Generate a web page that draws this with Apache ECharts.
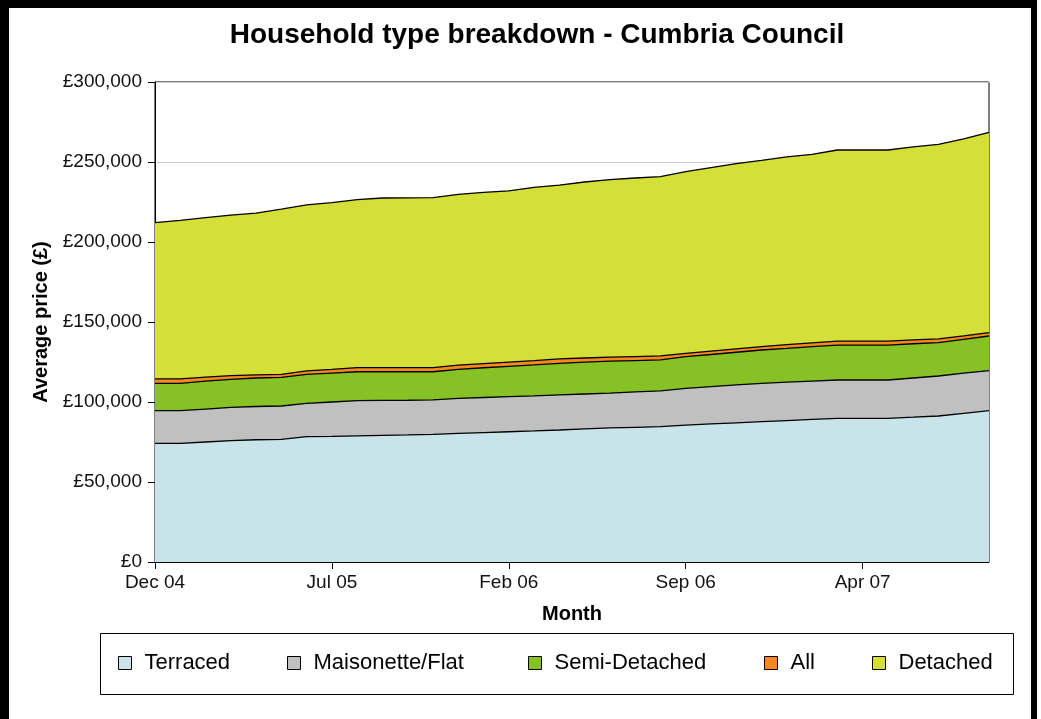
<!DOCTYPE html>
<html>
<head>
<meta charset="utf-8">
<title>Household type breakdown - Cumbria Council</title>
<script src="https://cdn.jsdelivr.net/npm/echarts@6/dist/echarts.min.js"></script>
<style>
  html, body { margin: 0; padding: 0; background: #fff; }
  #frame {
    position: absolute; left: 0; top: 0; width: 1041px; height: 719px;
    box-sizing: border-box; overflow: hidden;
  }
  #chart { position: absolute; left: 0; top: 0; width: 1041px; height: 719px; }
  .bar { position: absolute; background: #000; }
</style>
</head>
<body>
<div id="frame">
  <div id="chart"></div>
  <div class="bar" style="left:0;top:0;width:9px;height:719px"></div>
  <div class="bar" style="left:0;top:0;width:1037px;height:8px"></div>
  <div class="bar" style="left:1031px;top:0;width:6px;height:719px"></div>
</div>
<script>
// Monthly average prices, Dec 2004 - Sep 2007
const months = ['Dec 04','Jan 05','Feb 05','Mar 05','Apr 05','May 05','Jun 05','Jul 05','Aug 05','Sep 05','Oct 05','Nov 05',
  'Dec 05','Jan 06','Feb 06','Mar 06','Apr 06','May 06','Jun 06','Jul 06','Aug 06','Sep 06','Oct 06','Nov 06',
  'Dec 06','Jan 07','Feb 07','Mar 07','Apr 07','May 07','Jun 07','Jul 07','Aug 07','Sep 07'];

const terraced = [74200,74200,75000,75800,76400,76700,78300,78500,78800,79100,79400,79800,80400,80900,81400,81900,82500,
  83200,83800,84200,84600,85600,86300,87000,87700,88400,89100,89800,89800,89800,90500,91250,92900,94600];
const maisonetteFlat = [94600,94600,95600,96600,97200,97500,99200,100000,100800,101000,101100,101300,102300,102800,103300,
  103800,104400,105000,105600,106300,106900,108500,109600,110700,111700,112400,113100,113750,113750,113750,115000,116250,118000,119600];
const semiDetached = [111700,111700,113000,114200,115000,115400,117300,118100,118900,118900,118900,118900,120400,121400,
  122300,123200,124200,124900,125500,125900,126300,128300,129700,131100,132500,133500,134600,135600,135600,135600,136400,137100,139200,141250];
const allTypes = [114400,114400,115500,116500,117000,117300,119400,120400,121500,121500,121500,121500,123100,124000,124900,
  125800,126900,127500,128000,128400,128800,130400,131800,133200,134600,135800,137000,138100,138100,138100,138800,139400,141300,143300];
const detached = [212100,213500,215200,216800,218000,220500,223200,224600,226500,227500,227600,227700,229800,231000,232000,
  234200,235600,237500,239000,240000,240800,244000,246500,249000,251000,253200,254800,257500,257500,257500,259500,261000,264500,268500];

const seriesNames = ['Terraced', 'Maisonette/Flat', 'Semi-Detached', 'All', 'Detached'];
const seriesValues = [terraced, maisonetteFlat, semiDetached, allTypes, detached];
const seriesColors = ['#c8e4ea', '#c0c0c0', '#86c226', '#f7881f', '#d4df38'];

const FONT = '"Liberation Sans", Arial, sans-serif';

const chart = echarts.init(document.getElementById('chart'), null, { renderer: 'canvas' });

function money(v) {
  return '£' + String(v).replace(/\B(?=(\d{3})+(?!\d))/g, ',');
}

// Areas overlap (not stacked): the dearest type is drawn first, at the back
const series = seriesNames.map((name, i) => ({
  name: name,
  type: 'line',
  data: seriesValues[i],
  symbol: 'none',
  smooth: false,
  color: seriesColors[i],
  lineStyle: { color: '#000', width: 1.3 },
  areaStyle: { color: seriesColors[i], opacity: 1 },
  z: 10 - i,
  emphasis: { disabled: true }
})).reverse();

// One legend per entry so each item sits at its own spot in the box
const legendX = [118, 287, 528, 764, 872];
const legends = seriesNames.map((name, i) => ({
  data: [name],
  left: legendX[i],
  top: 652,
  padding: 0,
  icon: 'rect',
  itemWidth: 13,
  itemHeight: 13,
  itemStyle: { borderColor: '#000', borderWidth: 1 },
  lineStyle: { width: 0 },
  textStyle: { fontFamily: FONT, fontSize: 22, color: '#000', padding: [0, 0, 0, 8] },
  selectedMode: false
}));

chart.setOption({
  animation: false,
  backgroundColor: '#fff',
  title: {
    text: 'Household type breakdown - Cumbria Council',
    left: 532,
    top: 16,
    textAlign: 'center',
    textStyle: { fontFamily: FONT, fontSize: 28, fontWeight: 'bold', color: '#000' }
  },
  legend: legends,
  grid: {
    left: 155, right: 52, top: 82, bottom: 157,
    show: true, borderColor: '#000', borderWidth: 1, backgroundColor: '#fff'
  },
  xAxis: {
    type: 'category',
    data: months,
    boundaryGap: false,
    name: 'Month',
    nameLocation: 'middle',
    nameGap: 42,
    nameTextStyle: { fontFamily: FONT, fontSize: 20, fontWeight: 'bold', color: '#000' },
    axisLine: { lineStyle: { color: '#000', width: 1 } },
    axisTick: { show: true, interval: 6, length: 7, lineStyle: { color: '#000' } },
    axisLabel: { interval: 6, margin: 11, fontFamily: FONT, fontSize: 19, color: '#111' },
    splitLine: { show: false }
  },
  yAxis: {
    type: 'value',
    min: 0,
    max: 300000,
    interval: 50000,
    name: 'Average price (£)',
    nameLocation: 'middle',
    nameGap: 102,
    nameRotate: 90,
    nameTextStyle: { fontFamily: FONT, fontSize: 20, fontWeight: 'bold', color: '#000' },
    axisLine: { show: true, lineStyle: { color: '#000', width: 1 } },
    axisTick: { show: true, length: 7, lineStyle: { color: '#000' } },
    axisLabel: { margin: 13, fontFamily: FONT, fontSize: 19, color: '#111', formatter: money },
    splitLine: { show: true, lineStyle: { color: '#cccccc', width: 1 } }
  },
  graphic: [{
    type: 'rect',
    shape: { x: 100.5, y: 633.5, width: 913, height: 61 },
    style: { fill: 'none', stroke: '#000', lineWidth: 1 },
    z: 0
  }],
  series: series
});
</script>
</body>
</html>
